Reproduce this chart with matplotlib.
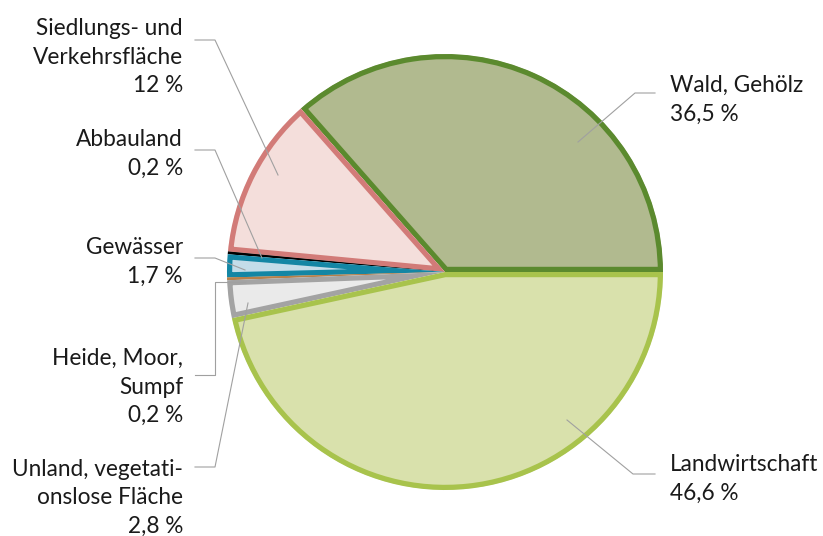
import matplotlib.pyplot as plt
import numpy as np

plt.rcParams['font.family'] = ['Lato', 'DejaVu Sans']

# data
labels = ["Wald, Gehölz", "Siedlungs- und\nVerkehrsfläche", "Abbauland", "Gewässer",
          "Heide, Moor,\nSumpf", "Unland, vegetati-\nonslose Fläche", "Landwirtschaft"]
shares = [36.5, 12, 0.2, 1.7, 0.2, 2.8, 46.6]
share_text = ["36,5 %", "12 %", "0,2 %", "1,7 %", "0,2 %", "2,8 %", "46,6 %"]

face_colors = ["#b1ba8f", "#f4dedb", "#000000", "#c4dde9", "#b7804a", "#eaeaea", "#d9e1ac"]
edge_colors = ["#5b8a2e", "#d27b78", "#000000", "#1486a4", "#b7804a", "#a3a3a3", "#a8c34c"]

W, H = 823, 536
fig = plt.figure(figsize=(W / 100, H / 100), dpi=100)
ax = fig.add_axes([0, 0, 1, 1])

cx, cy, R = 445, H - 272, 218
wedges, _ = ax.pie(shares, colors=face_colors, startangle=0, counterclock=True,
                   center=(cx, cy), radius=R)
for w, ec in zip(wedges, edge_colors):
    w.set_edgecolor(ec)
    w.set_linewidth(7.5)
    # keep the border inside each slice
    w.set_clip_on(True)
    w.set_clip_path(w.get_path(), w.get_transform())

ax.set_xlim(0, W)
ax.set_ylim(0, H)
ax.set_aspect('equal')
ax.axis('off')

# leader lines (pixel coords, y from top) and label positions
leaders = [
    [(578, 142), (635, 93), (655, 93)],
    [(278, 175), (215, 40), (195, 40)],
    [(262, 258), (215, 150), (195, 150)],
    [(245, 270), (215, 258), (195, 258)],
    [(245, 282), (215, 282), (215, 375), (195, 375)],
    [(248, 303), (215, 467), (195, 467)],
    [(567, 420), (633, 474), (655, 474)],
]
text_pos = [(670, 100, 'left'), (183, 57, 'right'), (183, 154, 'right'), (183, 262, 'right'),
            (183, 387, 'right'), (183, 498, 'right'), (670, 479, 'left')]

for pts, (tx, ty, ha), lab, pct in zip(leaders, text_pos, labels, share_text):
    xs = [p[0] for p in pts]
    ys = [H - p[1] for p in pts]
    ax.plot(xs, ys, color="#a0a0a0", lw=0.8)
    ax.text(tx, H - ty, lab + "\n" + pct, ha=ha, va='center', fontsize=16.3,
            color="#1a1a1a", linespacing=1.45, multialignment=ha)

fig.savefig("out.png", dpi=100)
